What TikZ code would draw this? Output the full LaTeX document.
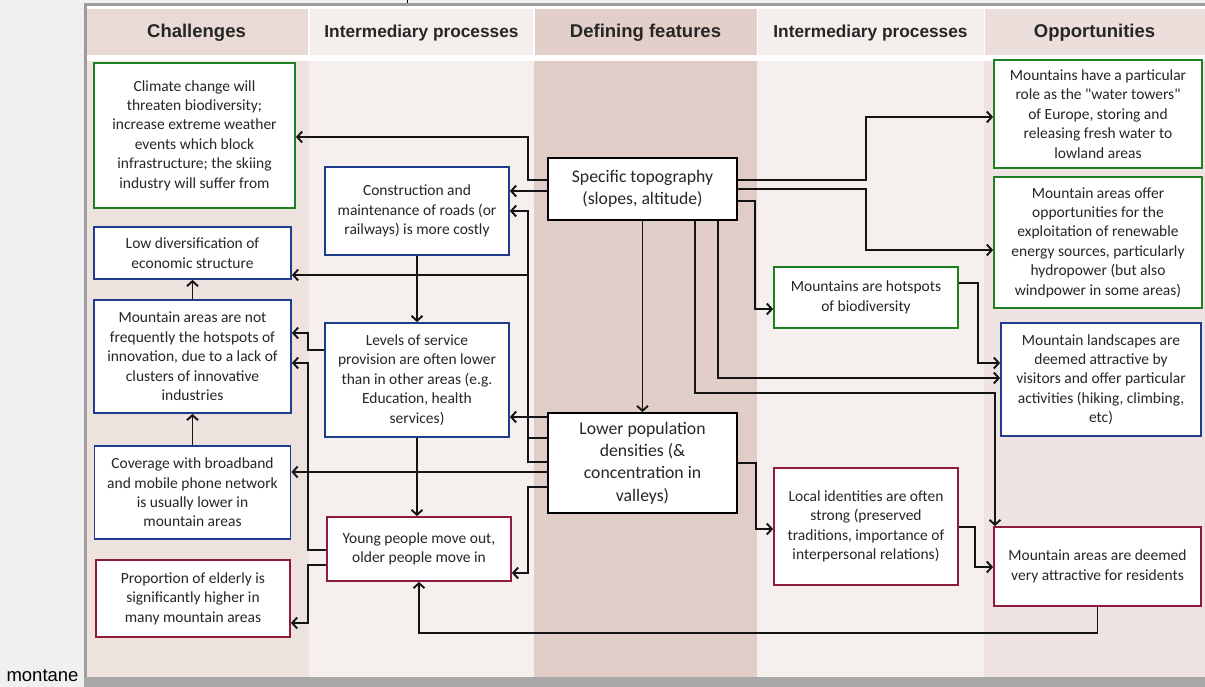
\documentclass[tikz,border=0pt]{standalone}
\usepackage{fontspec}
\setmainfont{Carlito}
\newfontfamily\hdrfont{Liberation Sans}
\newfontfamily\qfont{Carlito}[Ligatures=TeXOff]
\usetikzlibrary{arrows.meta}
\definecolor{pagegray}{HTML}{F0F0F0}
\definecolor{framegray}{HTML}{9D9D9D}
\definecolor{bandgray}{HTML}{A8A8A8}
\definecolor{chalH}{HTML}{EADAD5}
\definecolor{chalB}{HTML}{EDE2DE}
\definecolor{intH}{HTML}{F4EEEC}
\definecolor{intB}{HTML}{F5EFED}
\definecolor{defH}{HTML}{E3CFC9}
\definecolor{defB}{HTML}{E1CDC7}
\definecolor{oppH}{HTML}{ECDFDB}
\definecolor{oppB}{HTML}{EFE4E1}
\definecolor{grn}{HTML}{1F7F23}
\definecolor{blu}{HTML}{1F3D8C}
\definecolor{redb}{HTML}{8E1B3C}
\definecolor{txt}{HTML}{262626}
\definecolor{hdtext}{HTML}{262626}
\tikzset{
  bx/.style={draw, line width=1.8pt, fill=white, inner sep=0pt, align=center,
    font=\fontsize{15.5}{19.4}\selectfont, text=txt},
  gbox/.style={bx, draw=grn},
  bbox/.style={bx, draw=blu},
  rbox/.style={bx, draw=redb},
  kbox/.style={bx, draw=black, font=\fontsize{17.7}{22.2}\selectfont},
  arr/.style={draw=black!92, line width=1.9pt, -{Straight Barb[length=5pt,width=11pt]}},
  hdbig/.style={font=\hdrfont\bfseries\fontsize{18.5}{20}\selectfont, text=hdtext},
  hdsmall/.style={font=\hdrfont\bfseries\fontsize{17.3}{20}\selectfont, text=hdtext},
}
\begin{document}
\begin{tikzpicture}[x=1pt,y=-1pt]
\useasboundingbox (0,0) rectangle (1205,687);
% page and frame
\fill[pagegray] (0,0) rectangle (1205,687);
\fill[white] (86,6) rectangle (1205,677);
\fill[framegray] (84,3) rectangle (86.5,687);
\fill[framegray] (84,3) rectangle (1205,6);
\fill[bandgray] (84,677) rectangle (1205,687);
\draw[line width=1pt] (407,0) -- (407,3);
% column headers
\fill[chalH] (87,9) rectangle (308,55);
\fill[intH] (309.5,9) rectangle (533,55);
\fill[defH] (534.5,9) rectangle (756.5,55);
\fill[intH] (758,9) rectangle (983.5,55);
\fill[oppH] (985,9) rectangle (1205,55);
% column bodies
\fill[chalB] (87,61) rectangle (309,677);
\fill[intB] (309,61) rectangle (534,677);
\fill[defB] (534,61) rectangle (757,677);
\fill[intB] (757,61) rectangle (984,677);
\fill[oppB] (984,61) rectangle (1205,677);
% header texts
\node[hdbig] (h1) at (196.5,33) {Challenges};
\node[hdsmall] (h2) at (421.5,33) {Intermediary processes};
\node[hdbig] (h3) at (645.5,33) {Defining features};
\node[hdsmall] (h4) at (870.5,33) {Intermediary processes};
\node[hdbig] (h5) at (1094.5,33) {Opportunities};
\node[anchor=base west, font=\hdrfont\fontsize{18.5}{20}\selectfont] (mont) at (3,681) {montane};
% challenges
\node[gbox, minimum width=201pt, minimum height=145pt] (climate) at (194.5,135.5)
  {Climate change will\\threaten biodiversity;\\increase extreme weather\\events which block\\infrastructure; the skiing\\industry will suffer from};
\node[bbox, minimum width=197pt, minimum height=52pt] (lowdiv) at (192.5,253)
  {Low diversification of\\economic structure};
\node[bbox, minimum width=197pt, minimum height=113pt] (innov) at (192.5,356.5)
  {Mountain areas are not\\frequently the hotspots of\\innovation, due to a lack of\\clusters of innovative\\industries};
\node[bbox, minimum width=196pt, minimum height=93pt] (cover) at (192.5,492.5)
  {Coverage with broadband\\and mobile phone network\\is usually lower in\\mountain areas};
\node[rbox, minimum width=194pt, minimum height=77pt] (elderly) at (193,598.5)
  {Proportion of elderly is\\significantly higher in\\many mountain areas};
% intermediary left
\node[bbox, minimum width=184pt, minimum height=88pt] (constr) at (417,211)
  {Construction and\\maintenance of roads (or\\railways) is more costly};
\node[bbox, minimum width=184pt, minimum height=114pt] (levels) at (417,380)
  {Levels of service\\provision are often lower\\than in other areas (e.g.\\Education, health\\services)};
\node[rbox, minimum width=184pt, minimum height=64pt] (young) at (419,549)
  {Young people move out,\\older people move in};
% defining
\node[kbox, minimum width=189pt, minimum height=62pt] (topo) at (642.5,189)
  {Specific topography\\(slopes, altitude)};
\node[kbox, minimum width=189pt, minimum height=100pt] (lowpop) at (642.5,463)
  {Lower population\\densities (\&\\concentration in\\valleys)};
% intermediary right
\node[gbox, minimum width=184pt, minimum height=61pt] (hotspots) at (866,297.5)
  {Mountains are hotspots\\of biodiversity};
\node[rbox, minimum width=184pt, minimum height=117pt] (localid) at (866,526.5)
  {Local identities are often\\strong (preserved\\traditions, importance of\\interpersonal relations)};
% opportunities
\node[gbox, minimum width=208pt, minimum height=108pt] (water) at (1098,114)
  {Mountains have a particular\\role as the {\qfont"}water towers{\qfont"}\\of Europe, storing and\\releasing fresh water to\\lowland areas};
\node[gbox, minimum width=208pt, minimum height=131pt] (renew) at (1098,242.5)
  {Mountain areas offer\\opportunities for the\\exploitation of renewable\\energy sources, particularly\\hydropower (but also\\windpower in some areas)};
\node[bbox, minimum width=200pt, minimum height=113pt] (landsc) at (1101,379.5)
  {Mountain landscapes are\\deemed attractive by\\visitors and offer particular\\activities (hiking, climbing,\\etc)};
\node[rbox, minimum width=207pt, minimum height=79pt] (resid) at (1097.5,566.5)
  {Mountain areas are deemed\\very attractive for residents};
% connectors
\draw[arr] (topo.west |- 0,180) -| (528,137) -- (climate.east |- 0,137);
\draw[arr] (topo.west |- 0,191) -- (constr.east |- 0,191);
\draw[arr] (lowpop.west |- 0,438) -| (528,211) -- (constr.east |- 0,211);
\draw[arr] (lowpop.west |- 0,462) -| (528,275) -- (lowdiv.east |- 0,275);
\draw[arr] (constr.south) -- (levels.north);
\draw[arr] (lowpop.west |- 0,417) -- (levels.east |- 0,417);
\draw[arr] (levels.west |- 0,350) -| (308,333) -- (innov.east |- 0,333);
\draw[arr] (young.west |- 0,550) -| (308,363) -- (innov.east |- 0,363);
\draw[arr] (young.west |- 0,565) -| (308,623) -- (elderly.east |- 0,623);
\draw[arr] (lowpop.west |- 0,472) -- (cover.east |- 0,472);
\draw[arr] (lowpop.west |- 0,487) -| (528,573) -- (young.east |- 0,573);
\draw[arr] (levels.south) -- (levels.south |- young.north);
\draw[arr] (innov.north) -- (innov.north |- lowdiv.south);
\draw[arr] (cover.north) -- (cover.north |- innov.south);
\draw[arr] (resid.south) |- (young.south |- 0,633) -- (young.south);
\draw[arr] (topo.south) -- (topo.south |- lowpop.north);
\draw[arr] (topo.east |- 0,180) -| (866,117) -- (water.west |- 0,117);
\draw[arr] (topo.east |- 0,189) -| (866,250) -- (renew.west |- 0,250);
\draw[arr] (topo.east |- 0,201) -| (755,309) -- (hotspots.west |- 0,309);
\draw[arr] (hotspots.east |- 0,283) -| (978,363) -- (landsc.west |- 0,363);
\draw[arr] (topo.south -| 718,0) |- (landsc.west |- 0,378);
\draw[arr] (topo.south -| 695,0) |- (995,393) -- (resid.north -| 995,0);
\draw[arr] (lowpop.east |- 0,463) -| (756,529) -- (localid.west |- 0,529);
\draw[arr] (localid.east |- 0,527) -| (975,567) -- (resid.west |- 0,567);
\end{tikzpicture}
\end{document}
